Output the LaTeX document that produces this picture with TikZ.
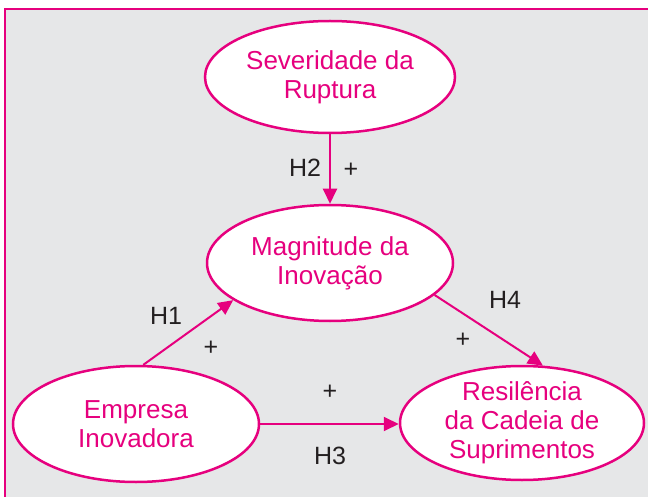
\documentclass[tikz,border=0pt]{standalone}
\usepackage{fontspec}
\setmainfont{Liberation Sans}
\usetikzlibrary{shapes.geometric,arrows.meta}
\definecolor{rosa}{HTML}{E6007E}
\definecolor{fundo}{HTML}{E6E7E8}
\definecolor{texto}{HTML}{231F20}

\begin{document}
\begin{tikzpicture}[x=1pt, y=-1pt,
    construct/.style={ellipse, draw=rosa, fill=white, line width=2.5pt, text=rosa,
                      align=center, inner sep=0pt, minimum width=246pt, minimum height=116pt,
                      font=\fontsize{26}{29}\selectfont},
    link/.style={draw=rosa, line width=2pt, -{Triangle[length=15pt,width=14pt]}},
    hyp/.style={text=texto, inner sep=0pt, font=\fontsize{25}{29}\selectfont},
    frame/.style={draw=rosa, line width=2.5pt},
]
\useasboundingbox (0,0) rectangle (648,497);

% background panel, open to the right and bottom
\fill[fundo] (5,9) rectangle (648,497);
\draw[frame] (5,497) -- (5,9) -- (648,9);

% constructs
\node[construct, minimum width=250pt, minimum height=112pt] (sev) at (330,77) {Severidade da\\Ruptura};
\node[construct] (mag) at (330,263) {Magnitude da\\Inovação};
\node[construct] (emp) at (136,424) {Empresa\\Inovadora};
\node[construct, minimum width=244pt, minimum height=114pt, inner sep=-3pt] (res) at (522,423) {Resilência\\da Cadeia de\\Suprimentos};

% hypotheses
\draw[link] (sev.south) -- (mag.north);
\draw[link] (emp.83) -- (mag.201);
\draw[link] (emp.east) -- (emp.east -| res.west);
\draw[link] (mag.-17) -- (res.70);

\node[hyp] (h2) at (305,168) {H2};
\node[hyp] (p2) at (351,170) {+};
\node[hyp] (h1) at (166,316) {H1};
\node[hyp] (p1) at (211,348) {+};
\node[hyp] (h3) at (330,456) {H3};
\node[hyp] (p3) at (330,392) {+};
\node[hyp] (h4) at (505,300) {H4};
\node[hyp] (p4) at (463,340) {+};
\end{tikzpicture}
\end{document}
